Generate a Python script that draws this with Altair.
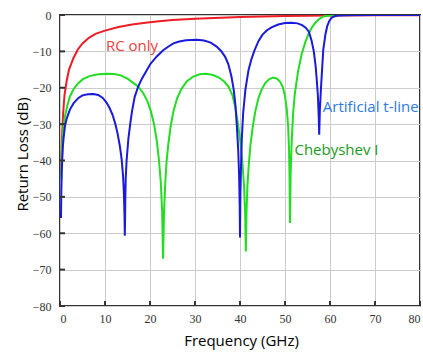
import altair as alt
import pandas as pd

# ---- data ----
rc_f = [0.2, 0.4, 0.7, 1.0, 1.5, 2.0, 3.0, 4.0, 5.0, 6.5, 8.0, 10, 13, 16, 19, 22, 25, 30, 40, 50, 60, 70, 80]
rc_db = [-44, -35, -27, -22, -18, -15, -11.8, -9.4, -7.8, -6.2, -5.1, -4.3, -3.3, -2.6, -2.1, -1.7, -1.4, -1.0,
         -0.55, -0.3, -0.15, -0.08, -0.05]

at_f = [0.22, 0.3, 0.4, 0.5, 0.65, 0.8, 1.1, 1.5, 2.2, 3.0, 4.1, 5.0, 6.2, 7.4, 8.5, 9.5, 10.3, 11.0, 11.7,
        12.3, 12.8, 13.3, 13.7, 14.0, 14.2, 14.33, 14.4, 14.45, 14.52, 14.6, 14.8, 15.2, 15.6, 16.0, 16.6,
        17.4, 18.2, 18.9, 20.0, 21.5, 23.0, 24.2, 25.2, 26.5, 28.0, 30.4, 32.0, 33.5, 34.8, 35.8, 36.7, 37.4,
        38.1, 38.6, 39.0, 39.3, 39.6, 39.8, 39.93, 40.0, 40.08, 40.2, 40.4, 40.7, 41.2, 41.9, 42.5, 43.2,
        44.1, 45.0, 46.0, 47.0, 48.5, 50.0, 51.5, 52.8, 53.8, 54.6, 55.3, 55.9, 56.4, 56.8, 57.0, 57.3, 57.5,
        57.6, 57.75, 58.0, 58.5, 59.0, 59.4, 59.9, 60.4, 61.2, 62.0, 64.0, 70.0, 80.0]
at_db = [-55.8, -48, -43, -39.7, -36, -33.8, -30.6, -28.4, -26, -24.3, -22.8, -22.1, -21.8, -21.7, -22.0, -22.8,
         -24, -25.5, -27.5, -30, -32.6, -36, -39.7, -44, -49, -55, -60.7, -57, -50, -45, -40, -34, -30, -26.5,
         -22.5, -19.6, -17.5, -16, -13.6, -11.4, -9.6, -8.6, -7.8, -7.3, -6.95, -6.8, -7.0, -7.6, -8.7, -9.9,
         -11.5, -13.5, -16.9, -20.5, -25, -30.6, -37, -44, -52, -61.2, -50, -43, -34, -27, -20.5, -15.1,
         -12.3, -9.8, -7.2, -5.4, -4.2, -3.4, -2.6, -2.2, -2.1, -2.3, -2.8, -3.5, -4.6, -7.0, -10, -14, -16.9,
         -22, -28, -32.9, -26, -20, -9.6, -5.2, -3.0, -1.5, -0.7, -0.3, -0.15, -0.05, 0, 0]

ch_f = [0.25, 0.35, 0.5, 0.75, 1.1, 1.6, 2.2, 3.0, 4.0, 5.0, 6.5, 8.5, 10.5, 12.0, 13.5, 15.0, 16.2, 17.4, 18.5,
        19.4, 20.2, 20.9, 21.5, 22.0, 22.4, 22.7, 22.9, 23.1, 23.35, 23.7, 24.1, 24.6, 25.2, 26.0, 27.0, 28.2,
        29.5, 31.0, 32.5, 34.0, 35.3, 36.5, 37.5, 38.3, 38.9, 39.5, 40.0, 40.5, 40.9, 41.15, 41.3, 41.45, 41.65,
        41.9, 42.3, 42.8, 43.4, 44.1, 44.8, 45.6, 46.5, 47.4, 48.2, 48.9, 49.5, 50.0, 50.4, 50.7, 50.9, 51.0,
        51.1, 51.25, 51.45, 51.8, 52.2, 52.9, 53.7, 54.5, 55.3, 56.0, 56.7, 57.4, 58.2, 59.0, 60.5, 63.0, 80.0]
ch_db = [-45, -40, -35.2, -31, -27.9, -25, -22.4, -20.4, -18.8, -17.7, -16.8, -16.3, -16.15, -16.2, -16.6, -17.5,
         -18.6, -19.7, -21.5, -23.6, -26.5, -30, -34.5, -40, -46, -54, -67, -55, -47, -40, -35.2, -30.5, -26.5,
         -23, -20.3, -18.2, -17, -16.3, -16.15, -16.5, -17.2, -18.3, -19.8, -22, -25, -29.5, -34, -40, -47, -55,
         -65, -54, -47, -42, -36, -31, -26.5, -22.8, -20.5, -18.7, -17.6, -17.2, -17.5, -18.3, -19.8, -22.3,
         -26, -30.6, -37, -44, -57.2, -44, -36, -27, -21.5, -15.5, -10.8, -7.5, -5.0, -3.4, -2.2, -1.3, -0.6,
         -0.25, -0.08, -0.02, 0]

series_names = ["RC only", "Artificial t-line", "Chebyshev I"]
series_colors = ["#ee1c24", "#1a1adc", "#22dd22"]

x_ticks = [0, 10, 20, 30, 40, 50, 60, 70, 80]
y_ticks = [0, -10, -20, -30, -40, -50, -60, -70, -80]

df = pd.concat([
    pd.DataFrame({"f": rc_f, "db": rc_db, "s": "RC only"}),
    pd.DataFrame({"f": ch_f, "db": ch_db, "s": "Chebyshev I"}),
    pd.DataFrame({"f": at_f, "db": at_db, "s": "Artificial t-line"}),
], ignore_index=True)

W, H = 360, 291

xs = alt.Scale(domain=[0, 80], nice=False, zero=False)
ys = alt.Scale(domain=[-80, 0], nice=False)

LABEL_FONT = "Times New Roman, Liberation Serif, serif"

x_axis = alt.Axis(values=x_ticks, tickCount=12, grid=True, gridColor="#cccccc", gridWidth=1, domain=False,
                  ticks=False, labelFont=LABEL_FONT, labelFontSize=12, labelColor="#333333", labelPadding=7,
                  labelOverlap=False,
                  title="Frequency (GHz)", titleFont="Open Sans", titleFontSize=15, titleFontWeight="normal",
                  titleColor="#000000", titleX=181, titleY=34, titleAlign="center", titleBaseline="middle")
y_axis = alt.Axis(values=y_ticks, tickCount=12, grid=True, gridColor="#cccccc", gridWidth=1, domain=False,
                  ticks=False, labelFont=LABEL_FONT, labelFontSize=12, labelColor="#333333", labelPadding=9,
                  labelOverlap=False,
                  title="Return Loss (dB)", titleFont="Open Sans", titleFontSize=15, titleFontWeight="normal",
                  titleColor="#000000", titleX=-38, titleY=139, titleAngle=270, titleAlign="center",
                  titleBaseline="middle")

lines = alt.Chart(df).mark_line(strokeWidth=2, clip=True).encode(
    x=alt.X("f:Q", scale=xs, axis=x_axis),
    y=alt.Y("db:Q", scale=ys, axis=y_axis),
    color=alt.Color("s:N", scale=alt.Scale(domain=series_names, range=series_colors), legend=None),
    detail="s:N",
    order="f:Q",
)

xt = alt.Chart(pd.DataFrame({"t": x_ticks})).mark_rule(color="#333333", strokeWidth=2).encode(
    x=alt.X("t:Q", scale=xs), y=alt.value(H), y2=alt.value(H - 5))
yt = alt.Chart(pd.DataFrame({"t": y_ticks})).mark_rule(color="#333333", strokeWidth=2).encode(
    y=alt.Y("t:Q", scale=ys), x=alt.value(0), x2=alt.value(5))

def label(txt, fx, fy, col):
    return alt.Chart().mark_text(text=txt, align="left", baseline="middle", font="Open Sans",
                                 fontSize=15, color=col).encode(
        x=alt.datum(fx, scale=xs), y=alt.datum(fy, scale=ys))

chart = alt.layer(
    lines, xt, yt,
    label("RC only", 10.2, -8.5, "#f04040"),
    label("Artificial t-line", 58.4, -25.4, "#2d7be0"),
    label("Chebyshev I", 52.1, -37.2, "#1a9a1a"),
).properties(
    width=W, height=H,
    autosize=alt.AutoSizeParams(type="none"),
    padding={"left": 60, "top": 15, "right": 3, "bottom": 46},
).configure_view(stroke="#333333", strokeWidth=2)

chart.save("out.html", embed_options={"renderer": "svg", "actions": False})
